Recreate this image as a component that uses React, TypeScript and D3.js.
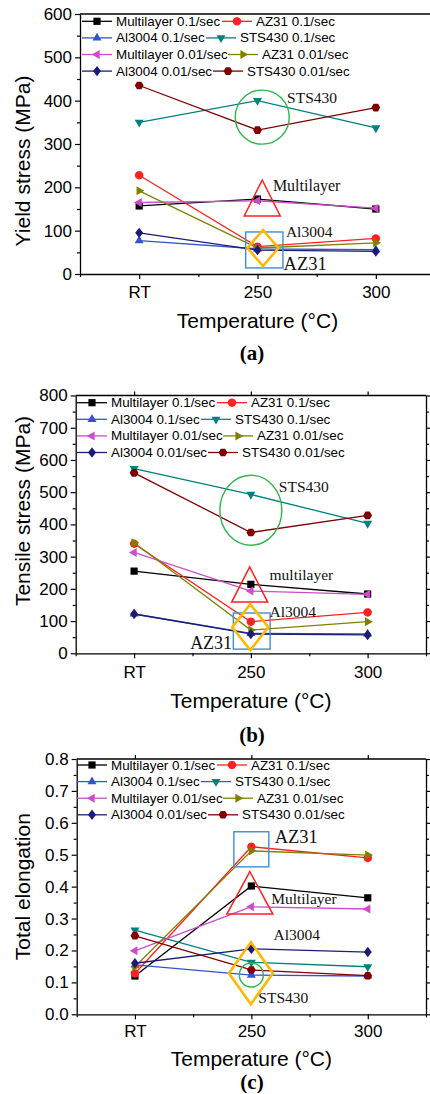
import React from 'react';
import * as d3 from 'd3';

const categories = ['RT', '250', '300'];

const seriesNames = [
    'Multilayer 0.1/sec', 'AZ31 0.1/sec',
    'Al3004 0.1/sec', 'STS430 0.1/sec',
    'Multilayer 0.01/sec', 'AZ31 0.01/sec',
    'Al3004 0.01/sec', 'STS430 0.01/sec'
];
const seriesColors = ['#000000', '#ff2020', '#3355cc', '#008080', '#cc4ccc', '#808000', '#1c1c78', '#800000'];
const seriesSymbols = ['square', 'circle', 'triangleUp', 'triangleDown', 'triangleLeft', 'triangleRight', 'diamond', 'hexagon'];

// values per series, same order as seriesNames, one value per category
const yieldValues = [
    [157, 173, 150],
    [228, 63, 82],
    [77, 58, 56],
    [350, 400, 337],
    [165, 169, 152],
    [192, 60, 72],
    [95, 55, 52],
    [435, 332, 384]
];
const tensileValues = [
    [255, 214, 184],
    [340, 98, 127],
    [122, 62, 60],
    [573, 493, 403],
    [313, 193, 183],
    [343, 72, 98],
    [122, 60, 57],
    [560, 375, 428]
];
const elongationValues = [
    [0.120, 0.402, 0.365],
    [0.128, 0.525, 0.490],
    [0.155, 0.123, 0.120],
    [0.264, 0.163, 0.149],
    [0.199, 0.337, 0.330],
    [0.149, 0.512, 0.499],
    [0.160, 0.205, 0.195],
    [0.246, 0.139, 0.121]
];

const yieldTicks = [0, 100, 200, 300, 400, 500, 600];
const tensileTicks = [0, 100, 200, 300, 400, 500, 600, 700, 800];
const elongationTicks = [0, 0.1, 0.2, 0.3, 0.4, 0.5, 0.6, 0.7, 0.8];

const green = '#2db84d', red = '#ff2020', blue = '#3a8fd6', orange = '#ffb800';

// annotations in data space (i = category index)
const yieldNotes = [
    { kind: 'ellipse', i: 1.04, v: 362, rx: 27, ry: 27, color: green },
    { kind: 'triangle', i: 1.04, v: 217, v2: 134, w: 18, color: red },
    { kind: 'rect', i: 0.9, i2: 1.215, v: 97, v2: 14, color: blue },
    { kind: 'diamond', i: 1.046, v: 60, w: 15.5, h: 18, color: orange },
    { kind: 'text', i: 1.25, v: 394, text: 'STS430', size: 15.5 },
    { kind: 'text', i: 1.13, v: 191, text: 'Multilayer', size: 16 },
    { kind: 'text', i: 1.24, v: 85, text: 'Al3004', size: 15.5 },
    { kind: 'text', i: 1.22, v: 9, text: 'AZ31', size: 18.5 }
];
const tensileNotes = [
    { kind: 'ellipse', i: 1.0, v: 444, rx: 31, ry: 35, color: green },
    { kind: 'triangle', i: 0.99, v: 268, v2: 159, w: 18, color: red },
    { kind: 'rect', i: 0.85, i2: 1.165, v: 125, v2: 13, color: blue },
    { kind: 'diamond', i: 0.995, v: 81, w: 18, h: 23, color: orange },
    { kind: 'text', i: 1.24, v: 499, text: 'STS430', size: 15.5 },
    { kind: 'text', i: 1.16, v: 229, text: 'multilayer', size: 15.5 },
    { kind: 'text', i: 1.16, v: 113, text: 'Al3004', size: 15.5 },
    { kind: 'text', i: 0.48, v: 12, text: 'AZ31', size: 18 }
];
const elongationNotes = [
    { kind: 'rect', i: 0.85, i2: 1.15, v: 0.572, v2: 0.462, color: blue },
    { kind: 'triangle', i: 0.987, v: 0.447, v2: 0.314, w: 23, color: red },
    { kind: 'diamond', i: 0.996, v: 0.129, w: 22, h: 31, color: orange },
    { kind: 'ellipse', i: 1.0, v: 0.123, rx: 12, ry: 12, color: green },
    { kind: 'text', i: 1.2, v: 0.538, text: 'AZ31', size: 18.5 },
    { kind: 'text', i: 1.17, v: 0.345, text: 'Multilayer', size: 15.5 },
    { kind: 'text', i: 1.19, v: 0.233, text: 'Al3004', size: 15.5 },
    { kind: 'text', i: 1.06, v: 0.035, text: 'STS430', size: 15.5 }
];

// offset of the second legend column, per row
const legendCol2 = [140, 124, 146, 131];

const panels = [
    {
        values: yieldValues, ticks: yieldTicks, fmt: (d: number) => String(d), label: 'Yield stress (MPa)', tag: '(a)', notes: yieldNotes,
        left: 80, right: 435, top: 14, bottom: 274, yLabelY: 161, tickY: 292, xLabelY: 320, tagY: 353,
        legendX: 82, legendY: 21.3, mirror: false
    },
    {
        values: tensileValues, ticks: tensileTicks, fmt: (d: number) => String(d), label: 'Tensile stress (MPa)', tag: '(b)', notes: tensileNotes,
        left: 75.7, right: 426, top: 395.5, bottom: 653.3, yLabelY: 511, tickY: 671.7, xLabelY: 700, tagY: 735,
        legendX: 77, legendY: 402.7, mirror: true
    },
    {
        values: elongationValues, ticks: elongationTicks, fmt: d3.format('.1f'), label: 'Total elongation', tag: '(c)', notes: elongationNotes,
        left: 76.7, right: 426, top: 759, bottom: 1014.3, yLabelY: 886.7, tickY: 1030.7, xLabelY: 1058.5, tagY: 1081.5,
        legendX: 77, legendY: 765, mirror: true
    }
];

const sans = '"Liberation Sans", Arial, sans-serif';
const serif = '"Liberation Serif", "Times New Roman", serif';

const poly = (p: number[][]) => 'M' + p.map(q => q[0].toFixed(2) + ',' + q[1].toFixed(2)).join('L') + 'Z';
const ring = (n: number, rot: number, rad: number) =>
    d3.range(n).map(k => [rad * Math.cos(rot + k * 2 * Math.PI / n), rad * Math.sin(rot + k * 2 * Math.PI / n)]);

function symbolPath(kind: string): string {
    switch (kind) {
        case 'square': return poly([[-3.6, -3.6], [3.6, -3.6], [3.6, 3.6], [-3.6, 3.6]]);
        case 'circle': return poly(ring(24, 0, 4.2));
        case 'triangleUp': return poly(ring(3, -Math.PI / 2, 5.2));
        case 'triangleDown': return poly(ring(3, Math.PI / 2, 5.2));
        case 'triangleLeft': return poly(ring(3, Math.PI, 5.2));
        case 'triangleRight': return poly(ring(3, 0, 5.2));
        case 'diamond': return poly([[0, -5.2], [4, 0], [0, 5.2], [-4, 0]]);
        default: return poly(ring(6, 0, 4.4));
    }
}

function drawPanel(root: any, cfg: any) {
    const g = root.append('g');
    const x = d3.scaleLinear().domain([-0.5, 2.5]).range([cfg.left, cfg.right]);
    const yMax = cfg.ticks[cfg.ticks.length - 1];
    const y = d3.scaleLinear().domain([0, yMax]).range([cfg.bottom, cfg.top]);
    const step = cfg.ticks[1] - cfg.ticks[0];
    const minorY = d3.range(cfg.ticks.length - 1).map(k => cfg.ticks[k] + step / 2);
    const minorX = [-0.5, 0.5, 1.5, 2.5];

    const styleAxis = (sel: any) => {
        sel.selectAll('path').attr('stroke', '#000').attr('stroke-width', 1.3);
        sel.selectAll('line').attr('stroke', '#000').attr('stroke-width', 1.2);
        sel.selectAll('text').attr('fill', '#000').style('font-family', sans).style('font-size', '17px');
    };

    // left axis
    g.append('g').attr('transform', `translate(${cfg.left},0)`)
        .call(d3.axisLeft(y).tickValues(cfg.ticks).tickSize(5).tickSizeOuter(0).tickPadding(3).tickFormat(cfg.fmt))
        .call(styleAxis);
    g.append('g').attr('transform', `translate(${cfg.left},0)`)
        .call(d3.axisLeft(y).tickValues(minorY).tickSize(3).tickFormat(() => ''))
        .call((s: any) => s.select('.domain').remove()).call(styleAxis);

    // bottom axis
    const bottomAxis = g.append('g').attr('transform', `translate(0,${cfg.bottom})`)
        .call(d3.axisBottom(x).tickValues([0, 1, 2]).tickSize(5).tickSizeOuter(0).tickFormat((d: any) => categories[d]))
        .call(styleAxis);
    bottomAxis.selectAll('text').attr('y', cfg.tickY - cfg.bottom).attr('dy', '0.35em');
    g.append('g').attr('transform', `translate(0,${cfg.bottom})`)
        .call(d3.axisBottom(x).tickValues(minorX).tickSize(3).tickFormat(() => ''))
        .call((s: any) => s.select('.domain').remove()).call(styleAxis);

    // top border, right border
    g.append('line').attr('x1', cfg.left).attr('x2', cfg.right).attr('y1', cfg.top).attr('y2', cfg.top)
        .attr('stroke', '#000').attr('stroke-width', 1.3);
    if (cfg.mirror) {
        g.append('g').attr('transform', `translate(${cfg.right},0)`)
            .call(d3.axisRight(y).tickValues(cfg.ticks).tickSize(4).tickSizeOuter(0).tickFormat(() => ''))
            .call(styleAxis);
        g.append('g').attr('transform', `translate(${cfg.right},0)`)
            .call(d3.axisRight(y).tickValues(minorY).tickSize(3).tickFormat(() => ''))
            .call((s: any) => s.select('.domain').remove()).call(styleAxis);
        g.append('g').attr('transform', `translate(0,${cfg.top})`)
            .call(d3.axisTop(x).tickValues([0, 1, 2]).tickSize(4).tickSizeOuter(0).tickFormat(() => ''))
            .call((s: any) => s.select('.domain').remove()).call(styleAxis);
    }

    // axis titles
    g.append('text')
        .attr('transform', `translate(22,${cfg.yLabelY}) rotate(-90)`)
        .attr('text-anchor', 'middle').attr('dominant-baseline', 'central')
        .style('font-family', sans).style('font-size', '21px').text(cfg.label);
    g.append('text')
        .attr('x', (cfg.left + cfg.right) / 2).attr('y', cfg.xLabelY)
        .attr('text-anchor', 'middle').attr('dominant-baseline', 'central')
        .style('font-family', sans).style('font-size', '21px').text('Temperature (\u00B0C)');
    g.append('text')
        .attr('x', 252).attr('y', cfg.tagY)
        .attr('text-anchor', 'middle').attr('dominant-baseline', 'central')
        .style('font-family', serif).style('font-size', '21px').style('font-weight', 'bold').text(cfg.tag);

    // series
    const line = d3.line<number>().x((_, k) => x(k)).y(d => y(d));
    cfg.values.forEach((vals: number[], s: number) => {
        const sg = g.append('g');
        sg.append('path').attr('d', line(vals)).attr('fill', 'none')
            .attr('stroke', seriesColors[s]).attr('stroke-width', 1.3);
        sg.selectAll('path.pt').data(vals).join('path').attr('class', 'pt')
            .attr('d', symbolPath(seriesSymbols[s]))
            .attr('transform', (d: number, k: number) => `translate(${x(k)},${y(d)})`)
            .attr('fill', seriesColors[s]);
    });

    // annotations
    cfg.notes.forEach((n: any) => {
        if (n.kind === 'ellipse') {
            g.append('ellipse').attr('cx', x(n.i)).attr('cy', y(n.v)).attr('rx', n.rx).attr('ry', n.ry)
                .attr('fill', 'none').attr('stroke', n.color).attr('stroke-width', 1.4);
        } else if (n.kind === 'triangle') {
            const cx = x(n.i), t = y(n.v), b = y(n.v2);
            g.append('path').attr('d', poly([[cx, t], [cx + n.w, b], [cx - n.w, b]]))
                .attr('fill', 'none').attr('stroke', n.color).attr('stroke-width', 1.5);
        } else if (n.kind === 'rect') {
            g.append('rect').attr('x', x(n.i)).attr('y', y(n.v)).attr('width', x(n.i2) - x(n.i)).attr('height', y(n.v2) - y(n.v))
                .attr('fill', 'none').attr('stroke', n.color).attr('stroke-width', 1.4);
        } else if (n.kind === 'diamond') {
            const cx = x(n.i), cy = y(n.v);
            g.append('path').attr('d', poly([[cx, cy - n.h], [cx + n.w, cy], [cx, cy + n.h], [cx - n.w, cy]]))
                .attr('fill', 'none').attr('stroke', n.color).attr('stroke-width', 2.6);
        } else {
            g.append('text').attr('x', x(n.i)).attr('y', y(n.v))
                .style('font-family', serif).style('font-size', n.size + 'px').attr('fill', '#111').text(n.text);
        }
    });

    // legend, two columns
    const rowGap = 16.6;
    const entry = (x0: number, yy: number, s: number) => {
        g.append('line').attr('x1', x0).attr('x2', x0 + 30).attr('y1', yy).attr('y2', yy)
            .attr('stroke', seriesColors[s]).attr('stroke-width', 1.3);
        g.append('path').attr('d', symbolPath(seriesSymbols[s])).attr('transform', `translate(${x0 + 15},${yy})`)
            .attr('fill', seriesColors[s]);
        g.append('text').attr('x', x0 + 34).attr('y', yy).attr('dominant-baseline', 'central')
            .style('font-family', sans).style('font-size', '13.4px').attr('fill', '#000').text(seriesNames[s]);
    };
    for (let r = 0; r < 4; r++) {
        const yy = cfg.legendY + r * rowGap;
        entry(cfg.legendX, yy, r * 2);
        entry(cfg.legendX + legendCol2[r], yy, r * 2 + 1);
    }
}

export default function App() {
    const ref = React.useRef<SVGSVGElement>(null);

    React.useEffect(() => {
        if (!ref.current) return;
        const svg = d3.select(ref.current);
        svg.selectAll('*').remove();
        panels.forEach(p => drawPanel(svg, p));
    }, []);

    return <svg ref={ref} width={430} height={1094}
        style={{ position: 'absolute', left: 0, top: 0, background: '#fff' }} />;
}
